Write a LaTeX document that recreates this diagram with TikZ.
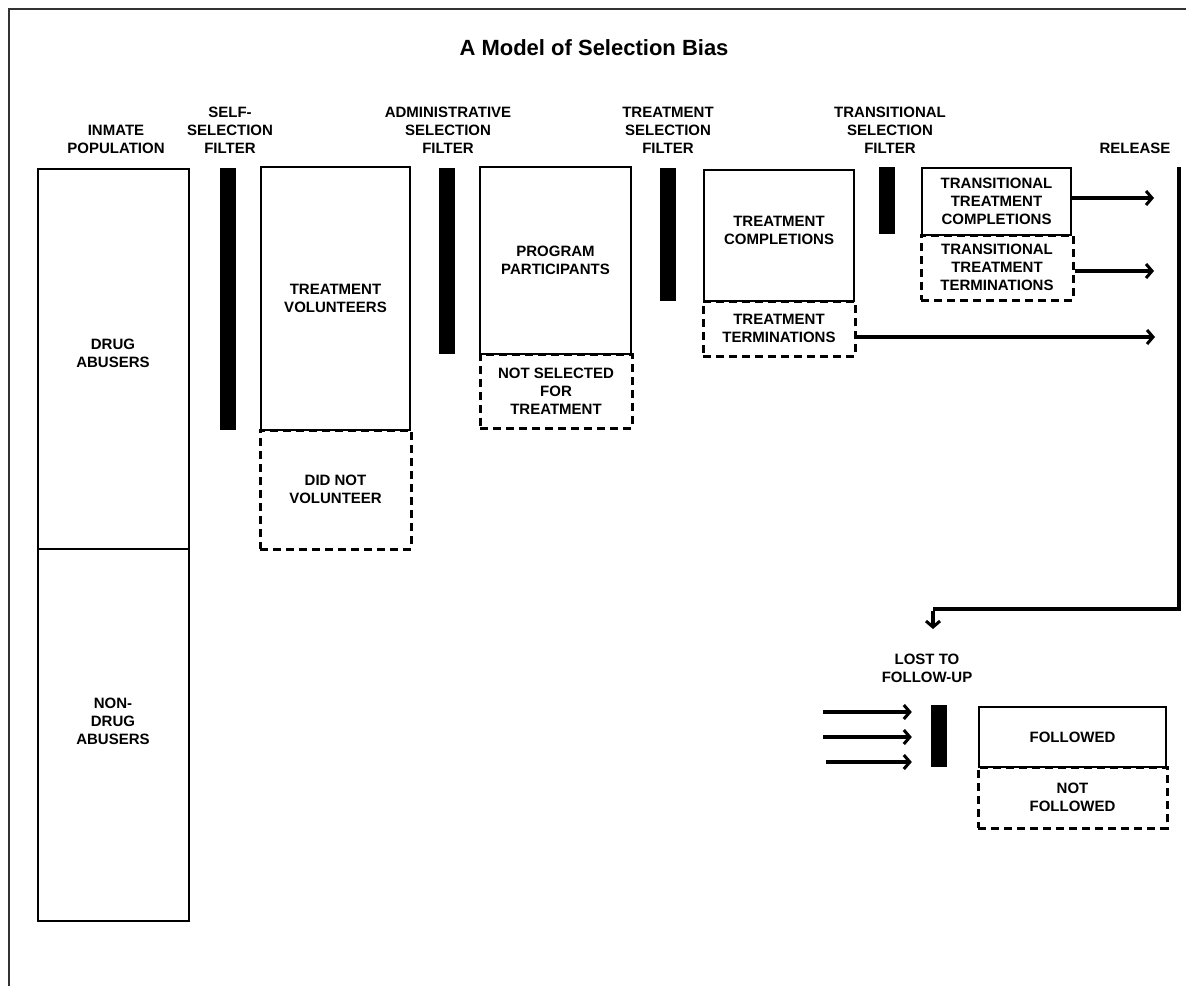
\documentclass[tikz,border=0pt]{standalone}
\usepackage{fontspec}
\setmainfont{Liberation Sans}
\usetikzlibrary{arrows.meta}
\begin{document}
\begin{tikzpicture}[x=1pt,y=-1pt,
  lbl/.style={font=\bfseries\fontsize{15}{18}\selectfont, align=center, inner sep=0pt, anchor=south},
  txt/.style={font=\bfseries\fontsize{15}{18}\selectfont, align=center, inner sep=0pt},
  box/.style={draw, line width=1.4pt, inner sep=0pt, align=center, font=\bfseries\fontsize{15}{18}\selectfont},
  dbox/.style={box, line width=3pt, dash pattern=on 8pt off 5pt},
  bar/.style={fill=black, draw=none, inner sep=0pt, minimum width=16pt},
  arr/.style={line width=3.6pt, -{Straight Barb[length=6pt,width=14pt,line width=3pt]}}
]
\useasboundingbox (0,0) rectangle (1186,986);
% frame
\draw[line width=2pt, black!80] (9,986) -- (9,9) -- (1186,9);
% title
\node[font=\bfseries\fontsize{22}{26}\selectfont, inner sep=0pt] (title) at (594,48) {A Model of Selection Bias};
% column labels
\node[lbl] (lInmate) at (116,154) {INMATE\\POPULATION};
\node[lbl] (lSelf) at (230,154) {SELF-\\SELECTION\\FILTER};
\node[lbl] (lAdmin) at (448,154) {ADMINISTRATIVE\\SELECTION\\FILTER};
\node[lbl] (lTreat) at (668,154) {TREATMENT\\SELECTION\\FILTER};
\node[lbl] (lTrans) at (890,154) {TRANSITIONAL\\SELECTION\\FILTER};
\node[lbl] (lRel) at (1135,154) {RELEASE};
\node[lbl] (lLost) at (927,683) {LOST TO\\FOLLOW-UP};
% inmate population
\node[box, minimum width=151pt, minimum height=380pt] (drug) at (113.5,359) {};
\node[txt] (drugT) at (113,353) {DRUG\\ABUSERS};
\node[box, minimum width=151pt, minimum height=372pt] (nondrug) at (113.5,735) {};
\node[txt] (nondrugT) at (113,721) {NON-\\DRUG\\ABUSERS};
% filters
\node[bar, minimum height=262pt] (f1) at (228,299) {};
\node[bar, minimum height=186pt] (f2) at (447,261) {};
\node[bar, minimum height=133pt] (f3) at (668,234.5) {};
\node[bar, minimum height=67pt] (f4) at (887,200.5) {};
\node[bar, minimum height=62pt] (f5) at (939,736) {};
% stage boxes
\node[box, minimum width=149pt, minimum height=263pt] (vol) at (335.5,298.5) {TREATMENT\\VOLUNTEERS};
\node[dbox, minimum width=151pt, minimum height=119pt] (notvol) at (335.5,489.5) {DID NOT\\VOLUNTEER};
\node[box, minimum width=151pt, minimum height=187pt] (part) at (555.5,260.5) {PROGRAM\\PARTICIPANTS};
\node[dbox, minimum width=152pt, minimum height=74pt] (notsel) at (556,391) {NOT SELECTED\\FOR\\TREATMENT};
\node[box, minimum width=150pt, minimum height=131pt] (compl) at (779,235.5) {};
\node[txt] (complT) at (779,230) {TREATMENT\\COMPLETIONS};
\node[dbox, minimum width=152pt, minimum height=55pt] (term) at (779,328.5) {TREATMENT\\TERMINATIONS};
\node[box, minimum width=149pt, minimum height=67pt] (tcompl) at (996.5,201.5) {TRANSITIONAL\\TREATMENT\\COMPLETIONS};
\node[dbox, minimum width=152pt, minimum height=65pt] (tterm) at (997,267.5) {TRANSITIONAL\\TREATMENT\\TERMINATIONS};
\node[box, minimum width=187pt, minimum height=60pt] (fol) at (1072.5,737) {FOLLOWED};
\node[dbox, minimum width=189pt, minimum height=61pt] (notfol) at (1072.5,797.5) {NOT\\FOLLOWED};
% arrows to release
\coordinate (r1) at (1154,198);
\coordinate (r2) at (1154,271);
\coordinate (r3) at (1155,337);
\draw[arr] (tcompl.east |- r1) -- (r1);
\draw[arr] (tterm.east |- r2) -- (r2);
\draw[arr] (term.east |- r3) -- (r3);
% release line
\coordinate (relTop) at (1179,167);
\coordinate (relBot) at (1179,609);
\coordinate (relTurn) at (933,609);
\coordinate (relTip) at (933,629);
\draw[line width=4.5pt, line join=miter] (relTop) -- (relBot) -- (relTurn);
\draw[arr] ([yshift=-2pt]relTurn) -- (relTip);
% lost to follow-up arrows
\coordinate (a1) at (823,712);
\coordinate (a2) at (823,737);
\coordinate (a3) at (826,762);
\draw[arr] (a1) -- ([xshift=-19pt]f5.west |- a1);
\draw[arr] (a2) -- ([xshift=-19pt]f5.west |- a2);
\draw[arr] (a3) -- ([xshift=-19pt]f5.west |- a3);
\end{tikzpicture}
\end{document}
